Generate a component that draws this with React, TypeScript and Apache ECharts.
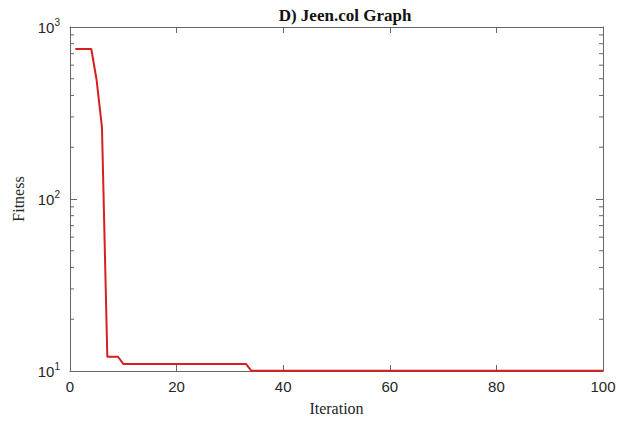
import React, { useEffect, useRef } from "react";
import * as echarts from "echarts";

const iterations = [1, 4, 5, 6, 7, 9, 10, 33, 34, 100];
const fitness = [745, 745, 490, 260, 12.1, 12.1, 11.0, 11.0, 10.05, 10.05];
const minorTickValues = [20, 30, 40, 50, 60, 70, 80, 90, 200, 300, 400, 500, 600, 700, 800, 900];

const axisColor = "#666666";
const labelColor = "#262626";

export default function App() {
  const ref = useRef<HTMLDivElement>(null);
  useEffect(() => {
    if (!ref.current) return;
    const chart = echarts.init(ref.current, null, { renderer: "svg" });
    const supFormatter = (v: number) => {
      const e = Math.round(Math.log10(v));
      return `{b|10}{s|${e}}`;
    };
    const lineCfg = { show: true, onZero: false, lineStyle: { color: axisColor, width: 1 } };
    const option: any = {
      animation: false,
      backgroundColor: "#ffffff",
      title: {
        text: "D) Jeen.col Graph",
        left: 340,
        top: 2,
        textAlign: "center",
        textStyle: { fontFamily: "Liberation Serif", fontWeight: "bold", fontSize: 17, color: "#111" },
      },
      grid: { left: 70, right: 26, top: 27, bottom: 50 },
      xAxis: [
        {
          type: "value",
          min: 0,
          max: 100,
          interval: 20,
          name: "Iteration",
          nameLocation: "middle",
          nameGap: 29,
          nameTextStyle: { fontFamily: "Liberation Serif", fontSize: 16, color: labelColor },
          axisLine: lineCfg,
          axisTick: { show: true, inside: true, length: 6, lineStyle: { color: axisColor, width: 1 } },
          axisLabel: { fontFamily: "Liberation Sans", fontSize: 15, color: labelColor, margin: 8 },
          splitLine: { show: false },
        },
        {
          type: "value",
          position: "top",
          min: 0,
          max: 100,
          interval: 20,
          axisLine: lineCfg,
          axisTick: { show: true, inside: true, length: 6, lineStyle: { color: axisColor, width: 1 } },
          axisLabel: { show: false },
          splitLine: { show: false },
        },
      ],
      yAxis: [
        {
          type: "log",
          logBase: 10,
          min: 10,
          max: 1000,
          position: "left",
          name: "Fitness",
          nameLocation: "middle",
          nameGap: 34,
          nameTextStyle: { fontFamily: "Liberation Serif", fontSize: 16, color: labelColor },
          axisLine: lineCfg,
          axisTick: { show: true, inside: true, length: 7, lineStyle: { color: axisColor, width: 1 } },
          axisLabel: {
            margin: 10,
            formatter: supFormatter,
            rich: {
              b: { fontFamily: "Liberation Sans", fontSize: 15, color: labelColor, lineHeight: 17 },
              s: { fontFamily: "Liberation Sans", fontSize: 10, color: labelColor, lineHeight: 10, padding: [0, 0, 9, 0] },
            },
          },
          splitLine: { show: false },
        },
        {
          type: "log",
          logBase: 10,
          min: 10,
          max: 1000,
          position: "right",
          axisLine: lineCfg,
          axisTick: { show: true, inside: true, length: 7, lineStyle: { color: axisColor, width: 1 } },
          axisLabel: { show: false },
          splitLine: { show: false },
        },
      ],
      series: [
        {
          type: "custom",
          silent: true,
          clip: false,
          xAxisIndex: 0,
          yAxisIndex: 0,
          data: minorTickValues.map((v) => [0, v]),
          renderItem: (params: any, api: any) => {
            const v = api.value(1);
            const l = api.coord([0, v]);
            const r = api.coord([100, v]);
            const style = { stroke: axisColor, lineWidth: 1 };
            return {
              type: "group",
              children: [
                { type: "line", shape: { x1: l[0], y1: l[1], x2: l[0] + 4, y2: l[1] }, style },
                { type: "line", shape: { x1: r[0] - 4, y1: r[1], x2: r[0], y2: r[1] }, style },
              ],
            };
          },
          z: 5,
        },
        {
          type: "line",
          xAxisIndex: 0,
          yAxisIndex: 0,
          data: iterations.map((x, i) => [x, fitness[i]]),
          showSymbol: false,
          symbol: "none",
          lineStyle: { color: "#d42020", width: 2 },
          z: 3,
        },
      ],
    };
    chart.setOption(option);
    return () => chart.dispose();
  }, []);
  return (
    <div
      ref={ref}
      style={{ position: "fixed", left: 0, top: 0, width: 629, height: 421, background: "#fff" }}
    />
  );
}
